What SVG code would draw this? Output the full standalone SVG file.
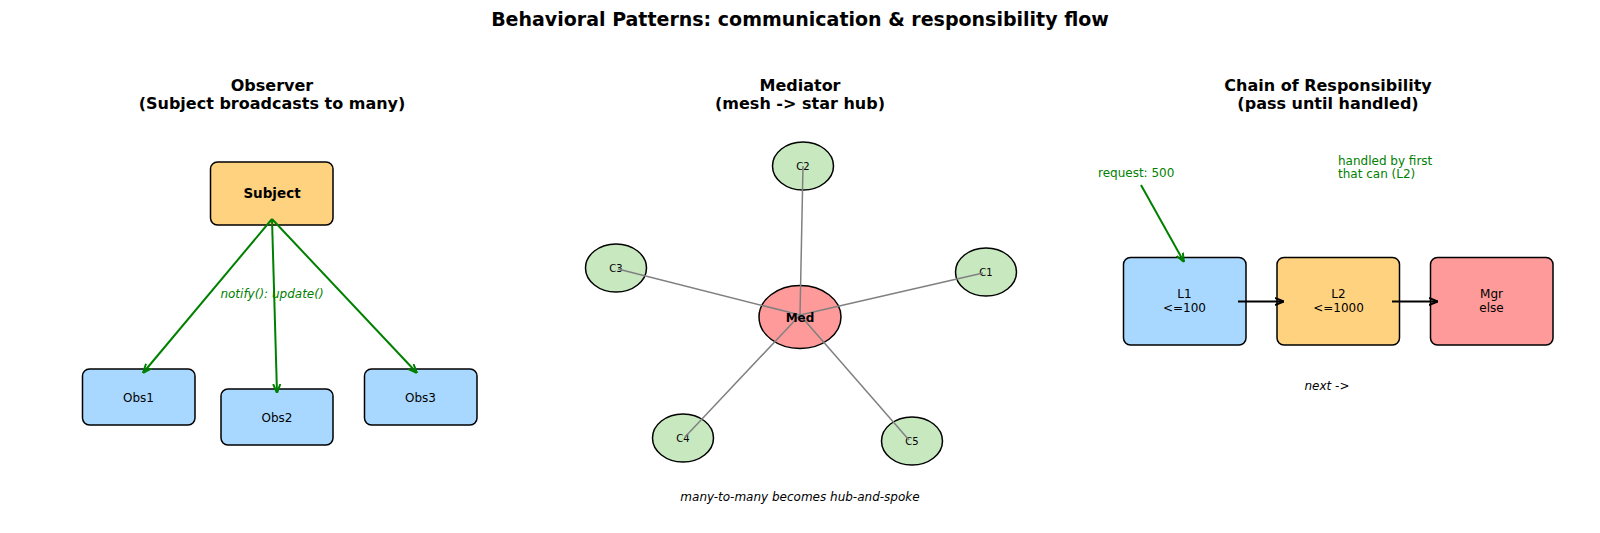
<svg xmlns="http://www.w3.org/2000/svg" width="1600" height="533" viewBox="0 0 1600 533">
<style>
text{font-family:"DejaVu Sans","Liberation Sans",sans-serif;fill:#000}
.title{font-size:19px;font-weight:bold}
.sub{font-size:16px;font-weight:bold}
.box{stroke:#000;stroke-width:1.5}
.blue{fill:#a8d8ff}
.orange{fill:#ffd280}
.red{fill:#ff9a9a}
.green{fill:#c8e8c0}
.lbl{font-size:12px}
.it{font-size:12px;font-style:italic}
.garrow{stroke:#008000;stroke-width:2;fill:none}
.karrow{stroke:#000;stroke-width:2;fill:none}
.spoke{stroke:#808080;stroke-width:1.5}
</style>
<defs>
<marker id="ag" viewBox="0 0 10 10" refX="10" refY="5" markerWidth="9" markerHeight="9" orient="auto" markerUnits="userSpaceOnUse">
<path d="M0,1 L10,5 L0,9" fill="none" stroke="#008000" stroke-width="2.2"/>
</marker>
<marker id="ak" viewBox="0 0 10 10" refX="10" refY="5" markerWidth="9" markerHeight="9" orient="auto" markerUnits="userSpaceOnUse">
<path d="M0,1 L10,5 L0,9" fill="none" stroke="#000" stroke-width="2.2"/>
</marker>
</defs>
<rect width="1600" height="533" fill="#fff"/>
<text class="title" x="800" y="26" text-anchor="middle">Behavioral Patterns: communication &amp; responsibility flow</text>

<text class="sub" x="272" y="91" text-anchor="middle">Observer</text>
<text class="sub" x="272" y="109" text-anchor="middle">(Subject broadcasts to many)</text>
<text class="sub" x="800" y="91" text-anchor="middle">Mediator</text>
<text class="sub" x="800" y="109" text-anchor="middle">(mesh -&gt; star hub)</text>
<text class="sub" x="1328" y="91" text-anchor="middle">Chain of Responsibility</text>
<text class="sub" x="1328" y="109" text-anchor="middle">(pass until handled)</text>

<g id="subject"><rect class="box orange" x="210.500" y="162" width="122.500" height="63" rx="7"/><text x="272" y="198" text-anchor="middle" font-size="13.500" font-weight="bold">Subject</text></g>
<g id="obs1"><rect class="box blue" x="82.500" y="369" width="112.500" height="56" rx="7"/><text class="lbl" x="138.500" y="401.500" text-anchor="middle">Obs1</text></g>
<g id="obs2"><rect class="box blue" x="221" y="389" width="112" height="56" rx="7"/><text class="lbl" x="277" y="421.500" text-anchor="middle">Obs2</text></g>
<g id="obs3"><rect class="box blue" x="364.500" y="369" width="112.500" height="56" rx="7"/><text class="lbl" x="420.500" y="401.500" text-anchor="middle">Obs3</text></g>

<g id="mediator-nodes">
<g id="c2"><ellipse class="box green" cx="803" cy="166" rx="30.500" ry="24"/><text x="803" y="169.500" text-anchor="middle" font-size="10">C2</text></g>
<g id="c3"><ellipse class="box green" cx="616" cy="268" rx="30.500" ry="24"/><text x="616" y="271.500" text-anchor="middle" font-size="10">C3</text></g>
<g id="c1"><ellipse class="box green" cx="986" cy="272" rx="30.500" ry="24"/><text x="986" y="275.500" text-anchor="middle" font-size="10">C1</text></g>
<g id="c4"><ellipse class="box green" cx="683" cy="438" rx="30.500" ry="24"/><text x="683" y="441.500" text-anchor="middle" font-size="10">C4</text></g>
<g id="c5"><ellipse class="box green" cx="912" cy="441" rx="30.500" ry="24"/><text x="912" y="444.500" text-anchor="middle" font-size="10">C5</text></g>
<g id="med"><ellipse class="box red" cx="800" cy="317" rx="41" ry="31.500"/></g>
</g>

<g id="l1"><rect class="box blue" x="1123.500" y="257.500" width="122.500" height="87.500" rx="7"/><text class="lbl" x="1184.500" y="298" text-anchor="middle">L1</text><text class="lbl" x="1184.500" y="311.500" text-anchor="middle">&lt;=100</text></g>
<g id="l2"><rect class="box orange" x="1277" y="257.500" width="122.500" height="87.500" rx="7"/><text class="lbl" x="1338.500" y="298" text-anchor="middle">L2</text><text class="lbl" x="1338.500" y="311.500" text-anchor="middle">&lt;=1000</text></g>
<g id="mgr"><rect class="box red" x="1430.500" y="257.500" width="122.500" height="87.500" rx="7"/><text class="lbl" x="1491.500" y="298" text-anchor="middle">Mgr</text><text class="lbl" x="1491.500" y="311.500" text-anchor="middle">else</text></g>

<g id="connectors">
<line class="garrow" x1="272" y1="219" x2="143" y2="373" marker-end="url(#ag)"/>
<line class="garrow" x1="272" y1="219" x2="277" y2="393" marker-end="url(#ag)"/>
<line class="garrow" x1="272" y1="219" x2="417" y2="373" marker-end="url(#ag)"/>
<line class="spoke" x1="800" y1="315" x2="803" y2="166"/>
<line class="spoke" x1="800" y1="315" x2="618" y2="269"/>
<line class="spoke" x1="800" y1="315" x2="983" y2="273"/>
<line class="spoke" x1="800" y1="315" x2="685" y2="437"/>
<line class="spoke" x1="800" y1="315" x2="909" y2="440"/>
<line class="karrow" x1="1238" y1="301.500" x2="1284" y2="301.500" marker-end="url(#ak)"/>
<line class="karrow" x1="1392" y1="301.500" x2="1438" y2="301.500" marker-end="url(#ak)"/>
<line class="garrow" x1="1141" y1="185" x2="1184" y2="262" marker-end="url(#ag)"/>
</g>

<text x="800" y="321.500" text-anchor="middle" font-size="12" font-weight="bold">Med</text>
<text class="it" x="272" y="298" text-anchor="middle" style="fill:#008000">notify(): update()</text>
<text class="it" x="800" y="501" text-anchor="middle">many-to-many becomes hub-and-spoke</text>
<text class="lbl" x="1098" y="177" style="fill:#008000">request: 500</text>
<text class="lbl" x="1338" y="165" style="fill:#008000">handled by first</text>
<text class="lbl" x="1338" y="177.500" style="fill:#008000">that can (L2)</text>
<text class="it" x="1327" y="390" text-anchor="middle">next -&gt;</text>
</svg>
